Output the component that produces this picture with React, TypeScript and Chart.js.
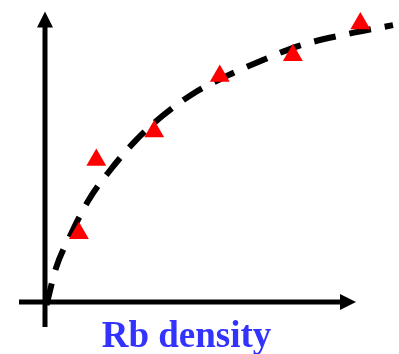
import React, { useEffect, useRef } from "react";
import { Chart, registerables } from "chart.js";

Chart.register(...registerables);

// Measured points (arbitrary units of Rb density vs. signal)
const measuredX = [1.09, 1.65, 3.51, 5.62, 7.97, 10.14];
const measuredY = [2.37, 4.89, 5.87, 7.78, 8.49, 9.59];

// Saturation trend line drawn through the measurements
const trendX = [0.05, 0.35, 0.84, 1.41, 2.12, 2.89, 3.79, 4.76, 5.88, 7.01, 8.14, 9.97, 11.19];
const trendY = [-0.1, 1.16, 2.35, 3.52, 4.57, 5.53, 6.42, 7.17, 7.8, 8.33, 8.81, 9.28, 9.53];

const xAxisTitle = "Rb density";

const W = 399;
const H = 354;

// Draws the crossed axes with arrowheads, and the axis title under them
const arrowAxes = {
  id: "arrowAxes",
  beforeDatasetsDraw(chart: any) {
    const { ctx, chartArea } = chart;
    const { left, right, top, bottom } = chartArea;
    const lw = 5;
    const head = 16;
    ctx.save();
    ctx.strokeStyle = "#000";
    ctx.fillStyle = "#000";
    ctx.lineWidth = lw;
    ctx.lineCap = "butt";
    // horizontal axis
    ctx.beginPath();
    ctx.moveTo(19, bottom);
    ctx.lineTo(right - head + 1, bottom);
    ctx.stroke();
    ctx.beginPath();
    ctx.moveTo(right, bottom);
    ctx.lineTo(right - head, bottom - head / 2);
    ctx.lineTo(right - head, bottom + head / 2);
    ctx.closePath();
    ctx.fill();
    // vertical axis
    ctx.beginPath();
    ctx.moveTo(left, bottom + 25);
    ctx.lineTo(left, top + head - 1);
    ctx.stroke();
    ctx.beginPath();
    ctx.moveTo(left, top);
    ctx.lineTo(left - head / 2, top + head);
    ctx.lineTo(left + head / 2, top + head);
    ctx.closePath();
    ctx.fill();
    ctx.restore();
  },
  afterDraw(chart: any) {
    const { ctx } = chart;
    ctx.save();
    ctx.font = 'bold 37px "Liberation Serif", "Times New Roman", serif';
    ctx.fillStyle = "#3333ff";
    ctx.textAlign = "center";
    ctx.textBaseline = "alphabetic";
    ctx.fillText(xAxisTitle, 186.5, 347);
    ctx.restore();
  },
};

export default function App() {
  const canvasRef = useRef<HTMLCanvasElement | null>(null);

  useEffect(() => {
    if (!canvasRef.current) return;
    const chart = new Chart(canvasRef.current, {
      type: "scatter",
      data: {
        datasets: [
          {
            type: "scatter",
            label: "measured",
            data: measuredX.map((x, i) => ({ x, y: measuredY[i] })),
            pointStyle: "triangle",
            pointRadius: 11.5,
            pointHoverRadius: 11.5,
            backgroundColor: "#ff0000",
            borderWidth: 0,
            clip: false,
            order: 0,
          } as any,
          {
            type: "line",
            label: "trend",
            data: trendX.map((x, i) => ({ x, y: trendY[i] })),
            borderColor: "#000",
            borderWidth: 6,
            borderDash: [22, 14],
            borderCapStyle: "butt",
            cubicInterpolationMode: "monotone",
            pointRadius: 0,
            fill: false,
            clip: false,
            order: 1,
          } as any,
        ],
      },
      options: {
        animation: false,
        responsive: false,
        events: [],
        layout: { padding: { left: 45, right: 43, top: 9, bottom: 52 } },
        plugins: {
          legend: { display: false },
          tooltip: { enabled: false },
        },
        scales: {
          x: { type: "linear", min: 0, max: 10, display: false },
          y: { type: "linear", min: 0, max: 10, display: false },
        },
      },
      plugins: [arrowAxes],
    });
    return () => chart.destroy();
  }, []);

  return (
    <div style={{ position: "fixed", left: 0, top: 0, width: W, height: H, background: "#fff" }}>
      <canvas ref={canvasRef} width={W} height={H} style={{ display: "block" }} />
    </div>
  );
}
